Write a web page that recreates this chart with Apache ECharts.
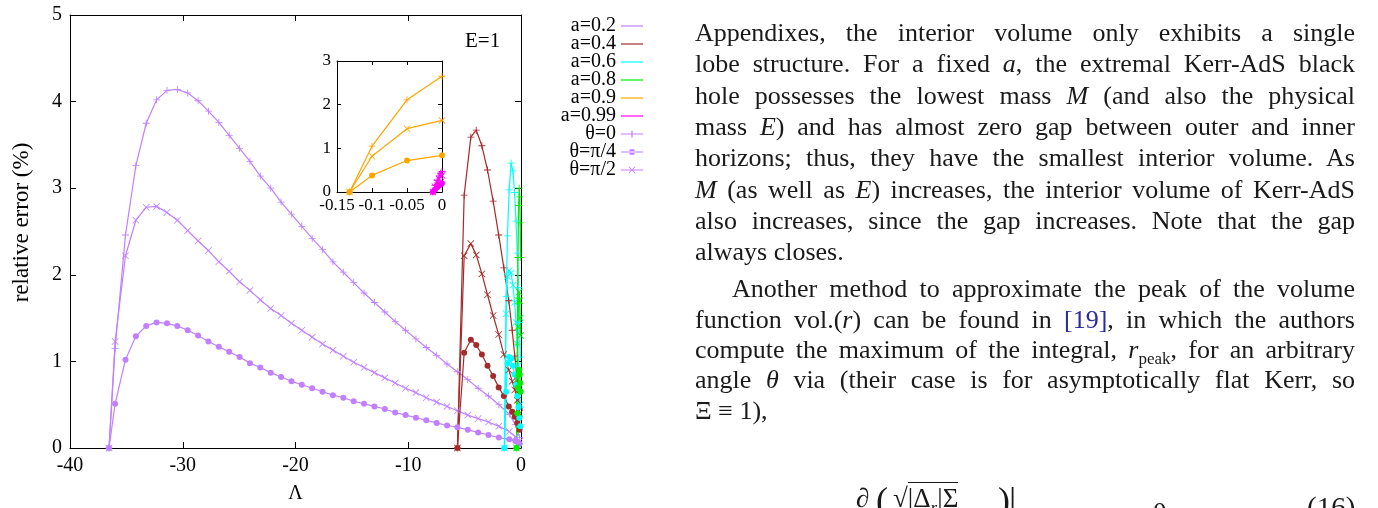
<!DOCTYPE html>
<html><head><meta charset="utf-8">
<script src="https://cdn.jsdelivr.net/npm/echarts/dist/echarts.min.js"></script>
<style>
html,body{margin:0;padding:0;background:#fff;width:1378px;height:508px;overflow:hidden;}
#chart{position:absolute;left:0;top:0;width:1378px;height:508px;}
#text{position:absolute;left:695px;top:0;width:660px;height:508px;font-family:"Liberation Serif",serif;font-size:26px;color:#1a1a1a;}
.ln{position:absolute;left:0;width:660px;text-align:justify;text-align-last:justify;line-height:30px;height:30px;}
.ll{text-align-last:left;}
.ind{left:37px;width:623px;}
.ref{color:#2b2b9e;}
sub{font-size:17px;vertical-align:-6px;line-height:0;}
#eq{position:absolute;top:483px;left:0;width:1378px;height:40px;font-family:"Liberation Serif",serif;font-size:27px;color:#1a1a1a;}
#eq span{position:absolute;top:0;}
</style>
</head><body>
<div id="chart"></div>
<div id="text">
<div class="ln" style="top:18px">Appendixes, the interior volume only exhibits a single</div>
<div class="ln" style="top:49px">lobe structure. For a fixed <i>a</i>, the extremal Kerr-AdS black</div>
<div class="ln" style="top:81px">hole possesses the lowest mass <i>M</i> (and also the physical</div>
<div class="ln" style="top:112px">mass <i>E</i>) and has almost zero gap between outer and inner</div>
<div class="ln" style="top:143px">horizons; thus, they have the smallest interior volume. As</div>
<div class="ln" style="top:175px"><i>M</i> (as well as <i>E</i>) increases, the interior volume of Kerr-AdS</div>
<div class="ln" style="top:206px">also increases, since the gap increases. Note that the gap</div>
<div class="ln ll" style="top:237px">always closes.</div>
<div class="ln ind" style="top:274px">Another method to approximate the peak of the volume</div>
<div class="ln" style="top:305px">function vol.(<i>r</i>) can be found in <span class="ref">[19]</span>, in which the authors</div>
<div class="ln" style="top:335px">compute the maximum of the integral, <i>r</i><sub>peak</sub>, for an arbitrary</div>
<div class="ln" style="top:365px">angle <i>θ</i> via (their case is for asymptotically flat Kerr, so</div>
<div class="ln ll" style="top:396px">Ξ ≡ 1),</div>
</div>
<div id="eq">
<span style="left:856px">∂</span>
<span style="left:876px;font-size:36px;top:-4px">(</span>
<span style="left:893px">√<span style="position:relative;border-top:1.5px solid #1a1a1a;">|Δ<sub><i>r</i></sub>|Σ</span></span>
<span style="left:998px;font-size:36px;top:-4px">)</span>
<span style="left:1009px;font-size:36px;top:-4px">|</span>
<span style="left:1153px;top:14px">0</span>
<span style="left:1307px;top:8px;font-size:29px">(16)</span>
</div>
<script>
// ---------------- data ----------------
// a = 0.2 (Lambda grid and relative errors, %)
const lam02 = [-36.54, -36.0, -35.08, -34.16, -33.24, -32.32, -31.40, -30.48, -29.56, -28.64, -27.72, -26.80, -25.88, -24.96, -24.04, -23.12, -22.20, -21.28, -20.36, -19.44, -18.52, -17.60, -16.68, -15.76, -14.84, -13.92, -13.00, -12.08, -11.16, -10.24, -9.32, -8.40, -7.48, -6.56, -5.64, -4.72, -3.80, -2.88, -1.96, -1.04, -0.50, -0.12];
const a02_th0  = [0, 1.15, 2.46, 3.26, 3.75, 4.02, 4.13, 4.14, 4.10, 4.01, 3.89, 3.76, 3.61, 3.46, 3.31, 3.14, 3.00, 2.84, 2.70, 2.56, 2.42, 2.29, 2.15, 2.03, 1.91, 1.79, 1.68, 1.57, 1.46, 1.36, 1.26, 1.16, 1.07, 0.97, 0.88, 0.79, 0.69, 0.60, 0.50, 0.39, 0.27, 0.12];
const a02_th4  = [0, 0.51, 1.02, 1.29, 1.41, 1.45, 1.44, 1.41, 1.36, 1.30, 1.23, 1.17, 1.11, 1.05, 0.98, 0.93, 0.87, 0.82, 0.77, 0.73, 0.69, 0.65, 0.61, 0.58, 0.54, 0.51, 0.48, 0.45, 0.41, 0.38, 0.35, 0.32, 0.29, 0.26, 0.24, 0.21, 0.18, 0.15, 0.12, 0.10, 0.08, 0.05];
const a02_th2  = [0, 1.23, 2.22, 2.63, 2.78, 2.79, 2.72, 2.63, 2.51, 2.39, 2.28, 2.15, 2.04, 1.92, 1.82, 1.71, 1.61, 1.53, 1.44, 1.36, 1.28, 1.20, 1.13, 1.06, 0.99, 0.93, 0.87, 0.81, 0.75, 0.69, 0.64, 0.58, 0.53, 0.48, 0.43, 0.38, 0.34, 0.30, 0.25, 0.19, 0.13, 0.08];
// a = 0.4
const lam04 = [-5.64, -5.04, -4.45, -3.97, -3.47, -2.97, -2.47, -1.98, -1.52, -1.08, -0.78, -0.55, -0.33, -0.13];
const a04_th0 = [0, 2.92, 3.59, 3.67, 3.49, 3.21, 2.85, 2.46, 2.08, 1.70, 1.36, 1.06, 0.76, 0.45];
const a04_th4 = [0, 1.10, 1.25, 1.19, 1.08, 0.95, 0.83, 0.70, 0.60, 0.48, 0.42, 0.36, 0.29, 0.21];
const a04_th2 = [0, 2.22, 2.36, 2.23, 2.01, 1.77, 1.53, 1.31, 1.08, 0.90, 0.77, 0.67, 0.55, 0.40];
// a = 0.6
const lam06 = [-1.47, -1.32, -1.20, -1.05, -0.88, -0.72, -0.57, -0.44, -0.33, -0.23, -0.14, -0.06];
const a06_th0 = [0, 1.75, 2.45, 2.98, 3.29, 3.20, 2.95, 2.62, 2.25, 1.85, 1.45, 1.05];
const a06_th4 = [0, 0.65, 0.98, 1.05, 1.03, 0.95, 0.85, 0.73, 0.60, 0.47, 0.35, 0.25];
const a06_th2 = [0, 1.55, 1.98, 2.05, 2.02, 1.88, 1.68, 1.45, 1.20, 0.95, 0.70, 0.50];
// a = 0.8
const lam08 = [-0.40, -0.33, -0.27, -0.21, -0.16, -0.11, -0.07, -0.03];
const a08_th0 = [0, 1.2, 2.2, 2.8, 3.0, 2.9, 2.6, 2.2];
const a08_th4 = [0, 0.4, 0.7, 0.85, 0.9, 0.85, 0.75, 0.65];
const a08_th2 = [0, 0.8, 1.4, 1.7, 1.8, 1.7, 1.5, 1.3];
// a = 0.9 (inset)
const lam09 = [-0.132, -0.1, -0.05, 0];
const a09_th0 = [0, 1.05, 2.11, 2.65];
const a09_th4 = [0, 0.38, 0.72, 0.84];
const a09_th2 = [0, 0.82, 1.45, 1.64];
// a = 0.99 (inset)
const lam099 = [-0.013, -0.010, -0.007, -0.004, -0.002, 0];
const a099_th0 = [0, 0.15, 0.27, 0.37, 0.43, 0.47];
const a099_th4 = [0, 0.06, 0.11, 0.15, 0.18, 0.20];
const a099_th2 = [0, 0.12, 0.22, 0.30, 0.35, 0.38];
// ticks / labels
const mainXTicks = {min: -40, max: 0, interval: 10};
const mainYTicks = {min: 0, max: 5, interval: 1};
const insetXTicks = {min: -0.15, max: 0, interval: 0.05};
const insetYTicks = {min: 0, max: 3, interval: 1};
const legendNames = ['a=0.2', 'a=0.4', 'a=0.6', 'a=0.8', 'a=0.9', 'a=0.99', 'θ=0', 'θ=π/4', 'θ=π/2'];

// ---------------- styles ----------------
const COL = {a02: '#c080ff', a04: '#a52a2a', a06: '#00ffff', a08: '#00ee00', a09: '#ffa500', a099: '#ff00ff'};
const PLUS = 'path://M0,4.4H10V5.6H0Z M4.4,0H5.6V10H4.4Z';
const CROSS = 'path://M0.8,0L5,4.2L9.2,0L10,0.8L5.8,5L10,9.2L9.2,10L5,5.8L0.8,10L0,9.2L4.2,5L0,0.8Z';
// legend icons (line sample, optionally with a point marker)
const IC_LINE = 'path://M0,6.4H22V7.6H0Z';
const IC_PLUS = 'path://M0,6.4H22V7.6H0Z M10.4,3.5H11.6V10.5H10.4Z';
const IC_DOT = 'path://M0,6.4H22V7.6H0Z M8,7A3,3 0 1,0 14,7A3,3 0 1,0 8,7Z';
const IC_CROSS = 'path://M0,6.4H22V7.6H0Z M7.5,4.1L8.1,3.5L14.5,9.9L13.9,10.5Z M13.9,3.5L14.5,4.1L8.1,10.5L7.5,9.9Z';
const FONT = 'Liberation Serif';

function mk(name, xs, ys, color, sym, ax) {
  return {
    name: name, type: 'line', xAxisIndex: ax, yAxisIndex: ax,
    data: xs.map((x, i) => [x, ys[i]]),
    symbol: sym, symbolSize: sym === 'circle' ? 6 : 7, showSymbol: true,
    lineStyle: {color: color, width: 1.2}, itemStyle: {color: color},
    animation: false, silent: true, clip: false
  };
}
const series = [];
const groups = [
  ['a02', lam02, a02_th0, a02_th4, a02_th2, 0],
  ['a04', lam04, a04_th0, a04_th4, a04_th2, 0],
  ['a06', lam06, a06_th0, a06_th4, a06_th2, 0],
  ['a08', lam08, a08_th0, a08_th4, a08_th2, 0],
  ['a09', lam09, a09_th0, a09_th4, a09_th2, 2],
  ['a099', lam099, a099_th0, a099_th4, a099_th2, 2]
];
groups.forEach(g => {
  series.push(mk(g[0] + '_0', g[1], g[2], COL[g[0]], PLUS, g[5]));
  series.push(mk(g[0] + '_4', g[1], g[3], COL[g[0]], 'circle', g[5]));
  series.push(mk(g[0] + '_2', g[1], g[4], COL[g[0]], CROSS, g[5]));
});
// legend-only series
const legCols = [COL.a02, COL.a04, COL.a06, COL.a08, COL.a09, COL.a099, COL.a02, COL.a02, COL.a02];
const legIcons = [IC_LINE, IC_LINE, IC_LINE, IC_LINE, IC_LINE, IC_LINE, IC_PLUS, IC_DOT, IC_CROSS];
legendNames.forEach((n, i) => {
  series.push({name: n, type: 'line', xAxisIndex: 0, yAxisIndex: 0, data: [],
    symbol: 'none', lineStyle: {color: legCols[i], width: 1.2}, itemStyle: {color: legCols[i]}, animation: false});
});

const axLine = {show: true, onZero: false, lineStyle: {color: '#000', width: 1}};
function ax(grid, pos, t, showLabel, tickLen, margin, fs, extra) {
  return Object.assign({type: 'value', gridIndex: grid, position: pos, min: t.min, max: t.max, interval: t.interval,
    axisLine: axLine, axisTick: {show: true, inside: true, length: tickLen, lineStyle: {color: '#000'}},
    axisLabel: {show: showLabel, margin: margin, fontFamily: FONT, fontSize: fs, color: '#000',
      formatter: v => String(+v.toFixed(2))},
    splitLine: {show: false}}, extra || {});
}
const option = {
  backgroundColor: '#fff',
  animation: false,
  grid: [
    {left: 70, top: 15, width: 451, height: 433, containLabel: false, outerBoundsMode: 'none'},
    {left: 337, top: 61, width: 105, height: 131, containLabel: false, outerBoundsMode: 'none'}
  ],
  xAxis: [
    ax(0, 'bottom', mainXTicks, true, 6, 8, 20, {name: 'Λ', nameLocation: 'middle', nameGap: 36, nameTextStyle: {fontFamily: FONT, fontSize: 20, color: '#000'}}),
    ax(0, 'top', mainXTicks, false, 6, 8, 20),
    ax(1, 'bottom', insetXTicks, true, 4, 5, 17),
    ax(1, 'top', insetXTicks, false, 4, 5, 17)
  ],
  yAxis: [
    ax(0, 'left', mainYTicks, true, 6, 8, 20, {name: 'relative error (%)', nameLocation: 'middle', nameGap: 37,
      nameTextStyle: {fontFamily: FONT, fontSize: 23, color: '#000', padding: [0, 0, 0, 18]}}),
    ax(0, 'right', mainYTicks, false, 6, 8, 20),
    ax(1, 'left', insetYTicks, true, 4, 6, 17),
    ax(1, 'right', insetYTicks, false, 4, 6, 17)
  ],
  legend: {
    data: legendNames.map((n, i) => ({name: n, icon: legIcons[i]})),
    orient: 'vertical', align: 'right', right: 735, top: 16, padding: 0,
    itemWidth: 22, itemHeight: 14, itemGap: -2.0, selectedMode: false,
    textStyle: {fontFamily: FONT, fontSize: 20, color: '#000'}
  },
  title: {text: 'E=1', left: 465, top: 31, padding: 0, textStyle: {fontFamily: FONT, fontSize: 21, fontWeight: 'normal', color: '#000'}},
  series: series
};
const chart = echarts.init(document.getElementById('chart'), null, {renderer: 'canvas'});
chart.setOption(option);
</script>
</body></html>
